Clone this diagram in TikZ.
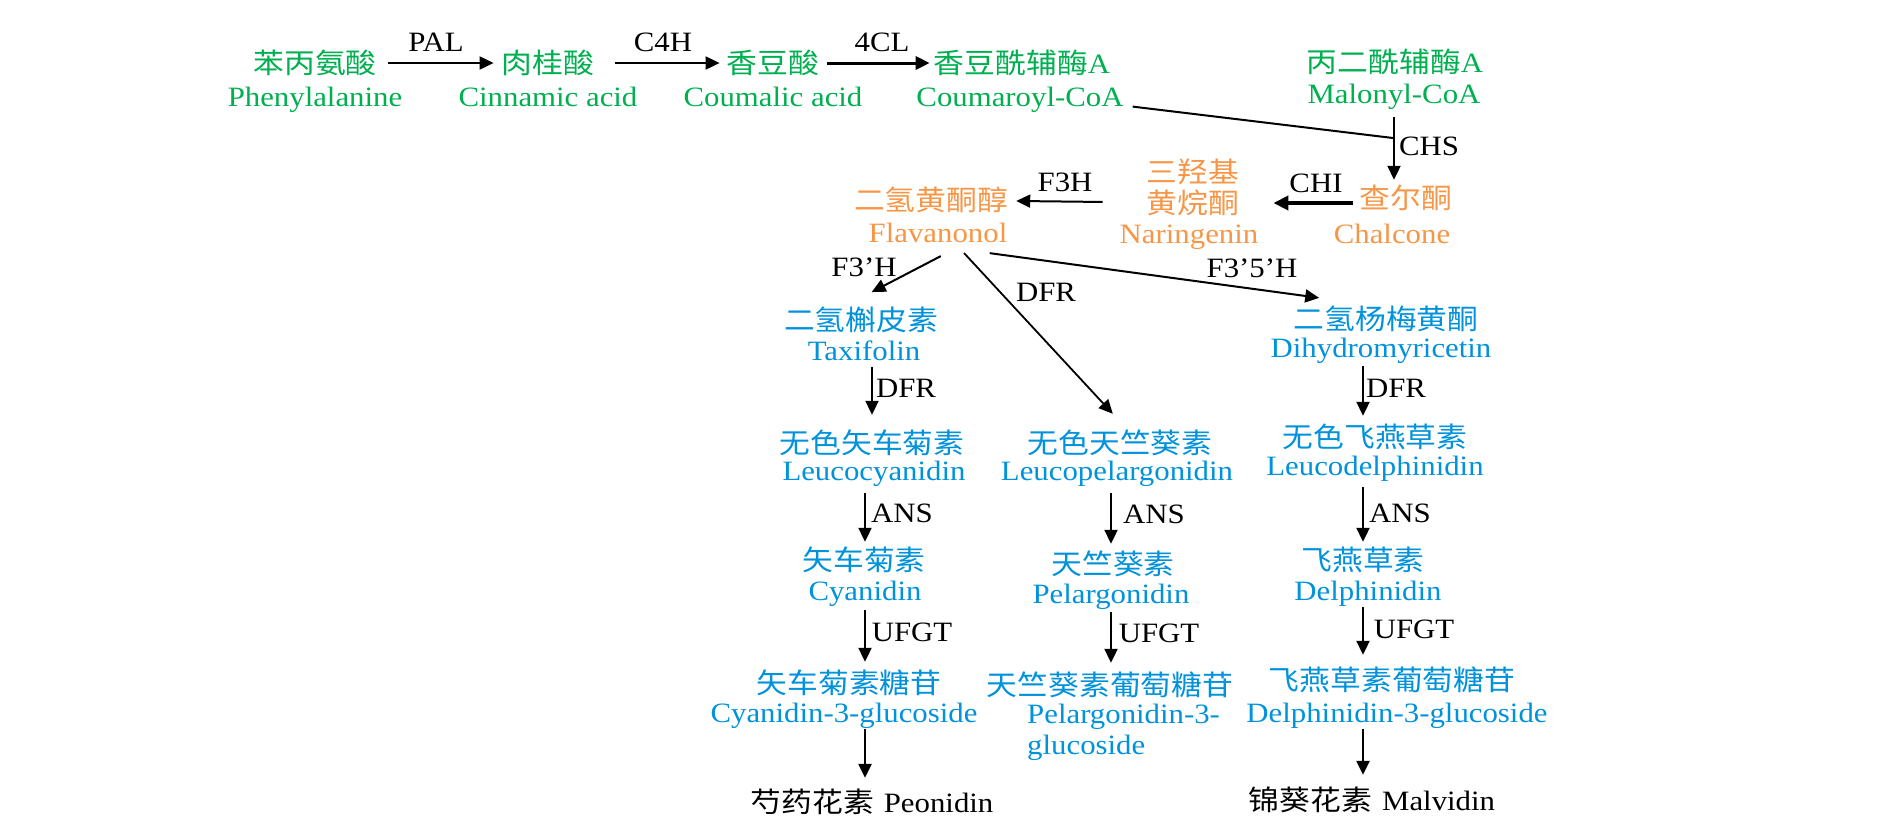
\documentclass[tikz,border=0pt]{standalone}
\usepackage{fontspec}
\setmainfont{Liberation Serif}[FakeStretch=1.1]
\newfontfamily\cjk{Noto Sans CJK SC}[FakeStretch=1.1]
\usetikzlibrary{arrows.meta,calc}
\definecolor{cgreen}{RGB}{0,176,80}
\definecolor{corange}{RGB}{247,150,70}
\definecolor{cblue}{RGB}{0,146,219}
\begin{document}
\begin{tikzpicture}[x=1pt,y=-1pt,
  zh/.style={font=\fontsize{28}{31}\selectfont\cjk, inner sep=4pt, text height=24pt, text depth=4pt},
  en/.style={font=\fontsize{28}{31}\selectfont\rmfamily, inner sep=4pt, text height=23pt, text depth=2pt},
  enml/.style={font=\fontsize{28}{31}\selectfont\rmfamily, inner sep=4pt, align=left},
  lab/.style={font=\fontsize{28}{31}\selectfont\rmfamily, inner sep=0pt, text height=18.5pt, text depth=0pt},
  cg/.style={text=cgreen}, co/.style={text=corange}, cb/.style={text=cblue},
  arr/.style={-{Triangle[length=14pt,width=13pt]}, line width=2pt},
  thickarr/.style={-{Triangle[length=15pt,width=14pt]}, line width=4.5pt}
]
\useasboundingbox[fill=white] (0,0) rectangle (1890,831);

% column guides
\coordinate (colL) at (865,0);
\coordinate (colM) at (1111,0);
\coordinate (colR) at (1363,0);

% row 1 (green)
\node[zh,cg] (phe) at (315,63) {苯丙氨酸};
\node[en,cg] (phe-en) at (315,96) {Phenylalanine};
\node[zh,cg] (cin) at (548,63) {肉桂酸};
\node[en,cg] (cin-en) at (548,96) {Cinnamic acid};
\node[zh,cg] (cou) at (773,63) {香豆酸};
\node[en,cg] (cou-en) at (773,96) {Coumalic acid};
\node[zh,cg] (cco) at (1022,63) {香豆酰辅酶{\rmfamily A}};
\node[en,cg] (cco-en) at (1020,96) {Coumaroyl-CoA};
\node[zh,cg] (mal) at (1395,62) {丙二酰辅酶{\rmfamily A}};
\node[en,cg] (mal-en) at (1394,93) {Malonyl-CoA};

% orange
\node[zh,co] (cha) at (1406,198) {查尔酮};
\node[en,co] (cha-en) at (1392,233) {Chalcone};
\node[zh,co] (nar1) at (1193,172) {三羟基};
\node[zh,co] (nar2) at (1193,203) {黄烷酮};
\node[en,co] (nar-en) at (1189,233) {Naringenin};
\node[zh,co] (fla) at (931,200) {二氢黄酮醇};
\node[en,co] (fla-en) at (938,232) {Flavanonol};

% blue
\node[zh,cb] (tax) at (861,320) {二氢槲皮素};
\node[en,cb] (tax-en) at (864,350) {Taxifolin};
\node[zh,cb] (dhm) at (1386,319) {二氢杨梅黄酮};
\node[en,cb] (dhm-en) at (1381,347) {Dihydromyricetin};
\node[zh,cb] (lcy) at (872,443) {无色矢车菊素};
\node[en,cb] (lcy-en) at (874,470) {Leucocyanidin};
\node[zh,cb] (lpe) at (1120,443) {无色天竺葵素};
\node[en,cb] (lpe-en) at (1117,470) {Leucopelargonidin};
\node[zh,cb] (lde) at (1375,437) {无色飞燕草素};
\node[en,cb] (lde-en) at (1375,465) {Leucodelphinidin};
\node[zh,cb] (cya) at (864,560) {矢车菊素};
\node[en,cb] (cya-en) at (865,590) {Cyanidin};
\node[zh,cb] (pel) at (1113,564) {天竺葵素};
\node[en,cb] (pel-en) at (1111,593) {Pelargonidin};
\node[zh,cb] (del) at (1363,560) {飞燕草素};
\node[en,cb] (del-en) at (1368,590) {Delphinidin};
\node[zh,cb] (cyg) at (849,683) {矢车菊素糖苷};
\node[en,cb] (cyg-en) at (844,712) {Cyanidin-3-glucoside};
\node[zh,cb] (peg) at (1110,685) {天竺葵素葡萄糖苷};
\node[enml,cb,anchor=north west] (peg-en) at (1023,700) {Pelargonidin-3-\\glucoside};
\node[zh,cb] (del3) at (1392,680) {飞燕草素葡萄糖苷};
\node[en,cb] (del3-en) at (1397,712) {Delphinidin-3-glucoside};

% black
\node[zh] (peo) at (872,802) {芍药花素\hspace{10pt}{\rmfamily Peonidin}};
\node[zh] (malv) at (1372,800) {锦葵花素\hspace{10pt}{\rmfamily Malvidin}};

% enzyme labels
\node[lab] (l-pal) at (436,42) {PAL};
\node[lab] (l-c4h) at (663,42) {C4H};
\node[lab] (l-4cl) at (882,42) {4CL};
\node[lab] (l-chs) at (1429,146) {CHS};
\node[lab] (l-chi) at (1316,183) {CHI};
\node[lab] (l-f3h) at (1065,182) {F3H};
\node[lab] (l-f3ph) at (864,267) {F3’H};
\node[lab] (l-dfr) at (1046,292) {DFR};
\node[lab] (l-f35h) at (1252,268) {F3’5’H};
\node[lab] (l-dfr1) at (906,388) {DFR};
\node[lab] (l-dfr3) at (1396,388) {DFR};
\node[lab] (l-ans1) at (902,513) {ANS};
\node[lab] (l-ans2) at (1154,514) {ANS};
\node[lab] (l-ans3) at (1400,513) {ANS};
\node[lab] (l-ufgt1) at (912,632) {UFGT};
\node[lab] (l-ufgt2) at (1159,633) {UFGT};
\node[lab] (l-ufgt3) at (1414,629) {UFGT};

% connectors
\draw[arr, shorten <=7pt, shorten >=4pt] (phe) -- (cin);
\draw[arr, shorten <=17pt, shorten >=3pt] (cin) -- (cou);
\draw[arr, line width=3pt, shorten <=4pt] (cou) -- (cco);
\coordinate (j) at (1393,138);
\draw[line width=2pt, shorten <=5pt] ([yshift=-10pt]cco-en.east) -- (j);
\draw[arr, shorten <=7.5pt] (mal-en.south) -- (mal-en.south |- cha.north);
\draw[thickarr, shorten <=3pt, shorten >=30pt] (cha.west |- nar2) -- (nar2);
\draw[arr, shorten <=40pt, shorten >=4pt] (nar2) -- (fla);
\draw[arr, shorten <=16pt, shorten >=21pt] ([xshift=17pt]fla-en.south) -- ([xshift=-8pt]tax.north);
\draw[arr, line width=1.8pt, shorten <=6pt, shorten >=15pt] ([xshift=22pt]fla-en.south) -- ([xshift=3pt]lpe.north);
\draw[arr, shorten <=33pt, shorten >=22pt] ([xshift=19pt]fla-en.south) -- ([xshift=-45pt]dhm.north);
\draw[arr, shorten >=10pt] (lcy.north |- tax-en.south) -- (lcy.north);
\draw[arr, shorten <=2pt, shorten >=3pt] (colR |- dhm-en.south) -- (colR |- lde.north);
\draw[arr, shorten <=6.5pt] (colL |- lcy-en.south) -- (colL |- cya.north);
\draw[arr, shorten <=6.5pt, shorten >=2pt] (colM |- lpe-en.south) -- (colM |- pel.north);
\draw[arr, shorten <=5.5pt] (colR |- lde-en.south) -- (colR |- del.north);
\draw[arr, shorten <=3.5pt, shorten >=3pt] (colL |- cya-en.south) -- (colL |- cyg.north);
\draw[arr, shorten <=2.5pt, shorten >=4pt] (colM |- pel-en.south) -- (colM |- peg.north);
\draw[arr, shorten >=7pt] (colR |- del-en.south) -- (colR |- del3.north);
\draw[arr, line width=2.4pt, shorten >=6pt] (colL |- cyg-en.south) -- (colL |- peo.north);
\draw[arr, line width=2.4pt, shorten >=7pt] (colR |- del3-en.south) -- (colR |- malv.north);
\end{tikzpicture}
\end{document}
